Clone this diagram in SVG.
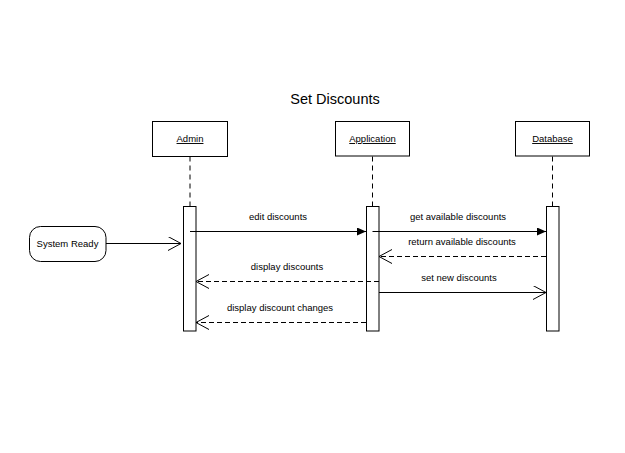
<svg xmlns="http://www.w3.org/2000/svg" width="625" height="453" viewBox="0 0 625 453">
<defs>
<marker id="filled" markerWidth="10" markerHeight="10" refX="9" refY="4" orient="auto" markerUnits="userSpaceOnUse">
<path d="M0,0 L9,4 L0,8 Z" fill="#000"/>
</marker>
<marker id="open" markerWidth="16" markerHeight="16" refX="13" refY="7" orient="auto" markerUnits="userSpaceOnUse">
<path d="M0,0 L13,7 L0,14" fill="none" stroke="#000" stroke-width="1"/>
</marker>
</defs>
<style>
text{font-family:"Liberation Sans",Arial,sans-serif;fill:#000}
.lbl{font-size:9.5px;text-anchor:middle}
.hdr{font-size:9.5px;text-anchor:middle;text-decoration:underline}
.box{fill:#fff;stroke:#000;stroke-width:1}
.life{stroke:#000;stroke-width:1;stroke-dasharray:5,4;fill:none}
.msg{stroke:#000;stroke-width:1;fill:none}
.ret{stroke:#000;stroke-width:1;fill:none;stroke-dasharray:5,3}
</style>
<rect width="625" height="453" fill="#fff"/>
<text x="335" y="104" font-size="14.5" text-anchor="middle">Set Discounts</text>

<g id="lifelines">
<line class="life" x1="190" y1="156.5" x2="190" y2="206.5"/>
<line class="life" x1="372.5" y1="156.5" x2="372.5" y2="206.5"/>
<line class="life" x1="552.5" y1="156.5" x2="552.5" y2="206.5"/>
</g>

<g id="admin">
<rect class="box" x="152.5" y="121.5" width="75" height="35"/>
<text class="hdr" x="190" y="142">Admin</text>
<rect class="box" x="183.5" y="206.5" width="12.5" height="124.5"/>
</g>
<g id="application">
<rect class="box" x="335.5" y="121.5" width="74" height="34.5"/>
<text class="hdr" x="372.5" y="142">Application</text>
<rect class="box" x="366.5" y="206.5" width="12.5" height="124.5"/>
</g>
<g id="database">
<rect class="box" x="515.5" y="121.5" width="74" height="34.5"/>
<text class="hdr" x="552.5" y="142">Database</text>
<rect class="box" x="546.5" y="206.5" width="12.5" height="124.5"/>
</g>
<g id="system-ready">
<rect class="box" x="29.5" y="226.5" width="76.5" height="35" rx="11" ry="11"/>
<text class="lbl" x="67.5" y="247">System Ready</text>
</g>

<g id="connectors">
<line class="msg" x1="106" y1="243.5" x2="181" y2="243.5" marker-end="url(#open)"/>
<line class="msg" x1="190" y1="231.5" x2="366" y2="231.5" marker-end="url(#filled)"/>
<text class="lbl" x="278" y="219.5">edit discounts</text>
<line class="msg" x1="372.5" y1="231.5" x2="546" y2="231.5" marker-end="url(#filled)"/>
<text class="lbl" x="458" y="219.5">get available discounts</text>
<line class="ret" x1="546" y1="256.5" x2="379" y2="256.5" marker-end="url(#open)"/>
<text class="lbl" x="462" y="245">return available discounts</text>
<line class="ret" x1="379" y1="281.5" x2="196" y2="281.5" marker-end="url(#open)"/>
<text class="lbl" x="287" y="270">display discounts</text>
<line class="msg" x1="379" y1="292.5" x2="546" y2="292.5" marker-end="url(#open)"/>
<text class="lbl" x="459" y="281">set new discounts</text>
<line class="ret" x1="366" y1="322.5" x2="196" y2="322.5" marker-end="url(#open)"/>
<text class="lbl" x="280" y="311">display discount changes</text>
</g>
</svg>
